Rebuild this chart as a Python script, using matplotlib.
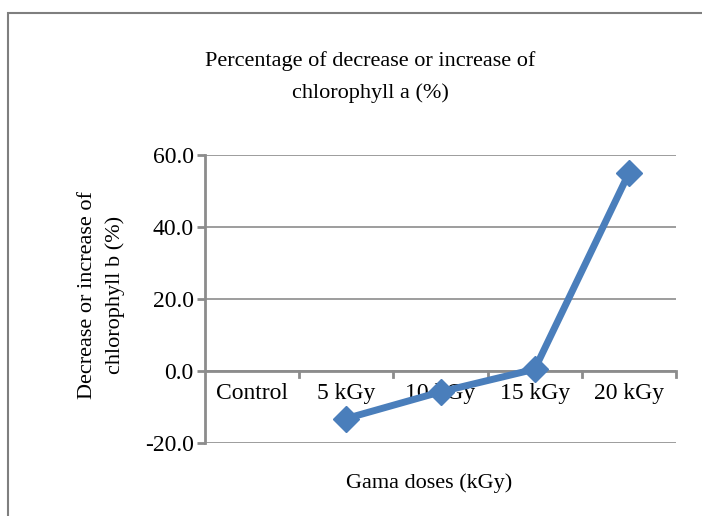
import numpy as np
import matplotlib.pyplot as plt
from matplotlib.patches import Rectangle

categories = ["Control", "5 kGy", "10 kGy", "15 kGy", "20 kGy"]
values = [np.nan, -13.2, -5.8, 0.5, 55.0]
yticks = [-20, 0, 20, 40, 60]

plt.rcParams['font.family'] = ['Liberation Serif', 'DejaVu Serif']

fig = plt.figure(figsize=(7.02, 5.16), dpi=100)
ax = fig.add_axes([0.292, 0.1415, 0.671, 0.558])

gray = "#8c8c8c"
blue = "#4a7ebb"

x = np.arange(len(categories))
ax.plot(x, values, color=blue, lw=5, marker="D", markersize=13, zorder=5)

ax.set_xlim(-0.5, len(categories) - 0.5)
ax.set_ylim(-20, 60)
ax.set_yticks(yticks)
ax.set_yticklabels([f"{v:.1f}" for v in yticks], fontsize=17)
ax.yaxis.grid(True, color=gray, lw=1.2)
ax.set_axisbelow(True)

for s in ["top", "right", "bottom"]:
    ax.spines[s].set_visible(False)
ax.spines["left"].set_color(gray)
ax.spines["left"].set_linewidth(2)
ax.tick_params(axis="y", color=gray, width=2, length=6, pad=2)

# category axis sits on y = 0
ax.axhline(0, color=gray, lw=2, zorder=2)
ax.set_xticks([])
for b in np.arange(0.5, len(categories), 1.0):
    ax.plot([b, b], [0, -1.7], color=gray, lw=2, clip_on=False, zorder=2)
for i, c in enumerate(categories):
    ax.text(i, -3.3, c, ha="center", va="top", fontsize=17, zorder=4)

fig.text(0.145, 0.428, "Decrease or increase of\nchlorophyll b (%)", rotation=90,
         ha="center", va="center", fontsize=16, linespacing=1.55)
fig.text(0.612, 0.064, "Gama doses (kGy)", ha="center", va="center", fontsize=16)
fig.text(0.527, 0.85, "Percentage of decrease or increase of\nchlorophyll a (%)",
         ha="center", va="center", fontsize=16, linespacing=1.85)

# outer chart frame
fig.patches.append(Rectangle((0.0114, -0.1), 1.2, 1.075, transform=fig.transFigure,
                             fill=False, edgecolor="#7f7f7f", lw=1.5))

fig.savefig("out.png", dpi=100)
